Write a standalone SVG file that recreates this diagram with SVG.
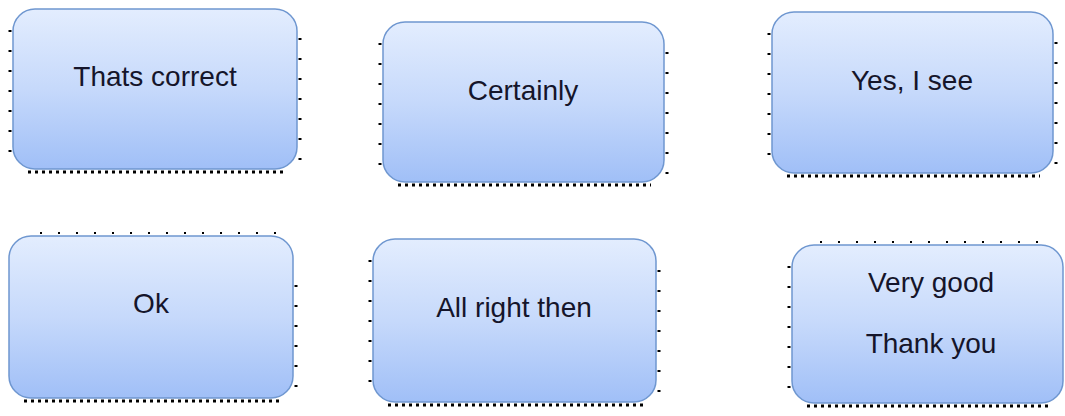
<svg xmlns="http://www.w3.org/2000/svg" width="1065" height="416" viewBox="0 0 1065 416">
<defs>
<linearGradient id="g" x1="0" y1="0" x2="0" y2="1">
<stop offset="0" stop-color="#e3edfe"/>
<stop offset="0.5" stop-color="#c6d9fb"/>
<stop offset="1" stop-color="#a0bff7"/>
</linearGradient>
</defs>
<style>
.box{fill:url(#g);stroke:#6f97d0;stroke-width:1.5}
.dotv{fill:none;stroke:#000;stroke-width:3;stroke-dasharray:2 18}
.doth{fill:none;stroke:#000;stroke-width:3;stroke-dasharray:3 4}
.dott{fill:none;stroke:#000;stroke-width:2;stroke-dasharray:2 16}
text{font-family:"Liberation Sans",Arial,sans-serif;font-size:28px;fill:#15152a;text-anchor:middle}
</style>
<g id="n1">
<path class="dotv" d="M10 30V160"/>
<path class="doth" d="M28 172H284"/>
<path class="dotv" d="M300 38V168"/>
<rect class="box" x="13" y="9" width="284" height="160" rx="22"/>
<text x="155" y="86">Thats correct</text>
</g>
<g id="n2">
<path class="dotv" d="M380 43V172"/>
<path class="doth" d="M398 185H651"/>
<path class="dotv" d="M667 52V182"/>
<rect class="box" x="383" y="22" width="281" height="160" rx="22"/>
<text x="523" y="100">Certainly</text>
</g>
<g id="n3">
<path class="dotv" d="M769 33V163"/>
<path class="doth" d="M787 176H1040"/>
<path class="dotv" d="M1056 42V172"/>
<rect class="box" x="772" y="12" width="281" height="161" rx="22"/>
<text x="912" y="90">Yes, I see</text>
</g>
<g id="n4">
<path class="dott" d="M40 233H280"/>
<path class="dotv" d="M296 285V388"/>
<path class="doth" d="M24 401H280"/>
<rect class="box" x="9" y="236" width="284" height="162" rx="22"/>
<text x="151" y="313">Ok</text>
</g>
<g id="n5">
<path class="dotv" d="M370 260V390"/>
<path class="doth" d="M388 405H643"/>
<path class="dotv" d="M659 270V400"/>
<rect class="box" x="373" y="239" width="283" height="163" rx="22"/>
<text x="514" y="317">All right then</text>
</g>
<g id="n6">
<path class="dott" d="M820 242H1050"/>
<path class="dotv" d="M789 266V393"/>
<path class="doth" d="M807 406H1050"/>
<rect class="box" x="792" y="245" width="271" height="158" rx="22"/>
<text x="931" y="292">Very good</text>
<text x="931" y="353">Thank you</text>
</g>
<g id="connectors"/>
</svg>
